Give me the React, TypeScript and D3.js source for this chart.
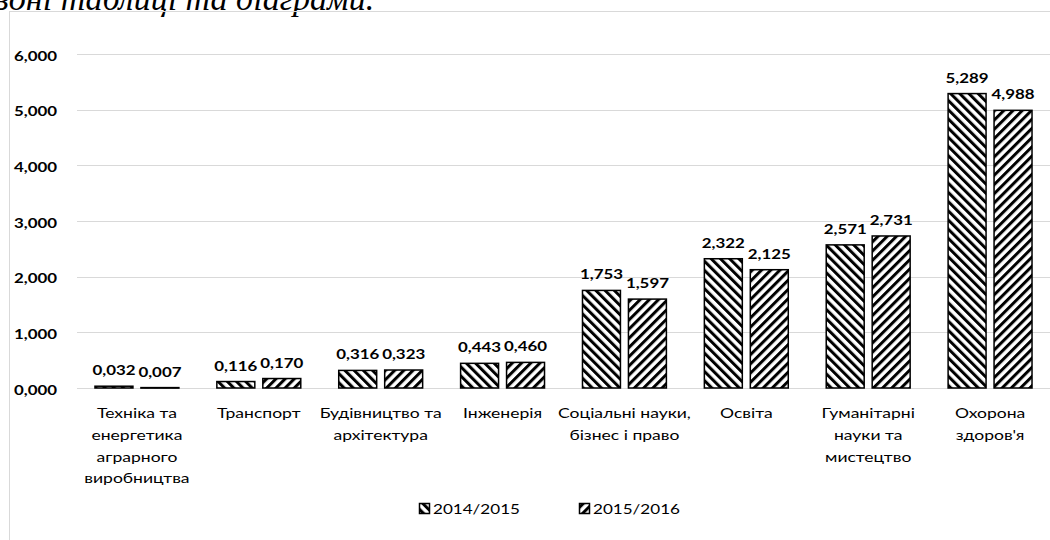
import React from "react";
import * as d3 from "d3";

const categories: string[][] = [
  ["Техніка та", "енергетика", "аграрного", "виробництва"],
  ["Транспорт"],
  ["Будівництво та", "архітектура"],
  ["Інженерія"],
  ["Соціальні науки,", "бізнес і право"],
  ["Освіта"],
  ["Гуманітарні", "науки та", "мистецтво"],
  ["Охорона", "здоров'я"],
];
const seriesNames = ["2014/2015", "2015/2016"];
const values2014 = [0.032, 0.116, 0.316, 0.443, 1.753, 2.322, 2.571, 5.289];
const values2015 = [0.007, 0.17, 0.323, 0.46, 1.597, 2.125, 2.731, 4.988];
const yTicks = [0, 1, 2, 3, 4, 5, 6];
const headerText = "зоні таблиці та діаграми.";

const W = 1050;
const H = 540;
const FONT = "Lato, 'Open Sans', sans-serif";
const SX = 1.3;

const locale = d3.formatLocale({
  decimal: ",",
  thousands: " ",
  grouping: [3],
  currency: ["", ""],
});
const fmt = locale.format(".3f");

function Txt(props: {
  x: number;
  y: number;
  children: React.ReactNode;
  size: number;
  weight?: string;
  anchor?: string;
  sx?: number;
  fill?: string;
}) {
  const { x, y, children, size, weight, anchor, sx, fill } = props;
  return (
    <text
      transform={`translate(${x},${y}) scale(${sx ?? SX},1)`}
      fontSize={size}
      fontWeight={weight ?? "normal"}
      textAnchor={anchor ?? "middle"}
      fill={fill ?? "#000"}
      fontFamily={FONT}
    >
      {children}
    </text>
  );
}

export default function App() {
  const catKeys = categories.map((c, i) => String(i));
  const x = d3.scaleBand<string>().domain(catKeys).range([76, 1051]).padding(0);
  const xSub = d3
    .scaleBand<string>()
    .domain(seriesNames)
    .range([0, x.bandwidth()])
    .paddingInner(0.174)
    .paddingOuter(0.413);
  const y = d3.scaleLinear().domain([0, 6]).range([388, 54]);
  const seriesValues = [values2014, values2015];
  const patternIds = ["hatchBack", "hatchFwd"];

  return (
    <svg
      width={W}
      height={H}
      style={{ position: "absolute", left: 0, top: 0, background: "#fff" }}
    >
      <defs>
        <pattern
          id="hatchBack"
          width={6.5}
          height={6.5}
          patternUnits="userSpaceOnUse"
          patternTransform="rotate(-45)"
        >
          <rect width={6.5} height={6.5} fill="#fff" />
          <rect width={3} height={6.5} fill="#000" />
        </pattern>
        <pattern
          id="hatchFwd"
          width={6.5}
          height={6.5}
          patternUnits="userSpaceOnUse"
          patternTransform="rotate(45)"
        >
          <rect width={6.5} height={6.5} fill="#fff" />
          <rect width={3} height={6.5} fill="#000" />
        </pattern>
      </defs>

      <rect x={0} y={0} width={W} height={H} fill="#fff" />

      {/* header text, clipped at top as in the reference */}
      <text
        x={-4}
        y={10}
        fontSize={34}
        fontStyle="italic"
        fontFamily="'Liberation Serif', 'DejaVu Serif', serif"
        fill="#000"
      >
        {headerText}
      </text>

      {/* chart frame */}
      <rect x={9.5} y={11.5} width={1100} height={600} fill="none" stroke="#d9d9d9" strokeWidth={1} />

      {/* gridlines */}
      {yTicks.map((t) => (
        <line
          key={"g" + t}
          x1={77}
          x2={1050}
          y1={Math.round(y(t)) + 0.5}
          y2={Math.round(y(t)) + 0.5}
          stroke="#d9d9d9"
          strokeWidth={1}
        />
      ))}

      {/* y tick labels */}
      {yTicks.map((t) => (
        <Txt key={"t" + t} x={57} y={y(t) + 6.5} size={13.5} weight="bold" anchor="end" sx={1.25}>
          {fmt(t)}
        </Txt>
      ))}

      {/* bars */}
      {seriesNames.map((s, si) =>
        seriesValues[si].map((v, i) => {
          const bx = (x(String(i)) ?? 0) + (xSub(s) ?? 0);
          const by = y(v);
          const bh = y(0) - by;
          return (
            <g key={s + i}>
              <rect
                x={bx}
                y={by}
                width={xSub.bandwidth()}
                height={Math.max(bh, 0.5)}
                fill={`url(#${patternIds[si]})`}
                stroke="#000"
                strokeWidth={1.5}
              />
              <Txt x={bx + xSub.bandwidth() / 2} y={by - 11} size={13.5} weight="bold" sx={1.25}>
                {fmt(v)}
              </Txt>
            </g>
          );
        })
      )}

      {/* category labels */}
      {categories.map((lines, i) =>
        lines.map((ln, li) => (
          <Txt
            key={"c" + i + "-" + li}
            x={(x(String(i)) ?? 0) + x.bandwidth() / 2}
            y={418 + li * 21.8}
            size={13.5}
          >
            {ln}
          </Txt>
        ))
      )}

      {/* legend */}
      {seriesNames.map((s, si) => {
        const lx = [419, 579][si];
        return (
          <g key={"l" + s}>
            <rect
              x={lx + 0.5}
              y={503.5}
              width={10}
              height={10}
              fill={`url(#${patternIds[si]})`}
              stroke="#000"
              strokeWidth={1.5}
            />
            <Txt x={lx + 14} y={513.5} size={14} anchor="start" sx={1.22}>
              {s}
            </Txt>
          </g>
        );
      })}
    </svg>
  );
}
